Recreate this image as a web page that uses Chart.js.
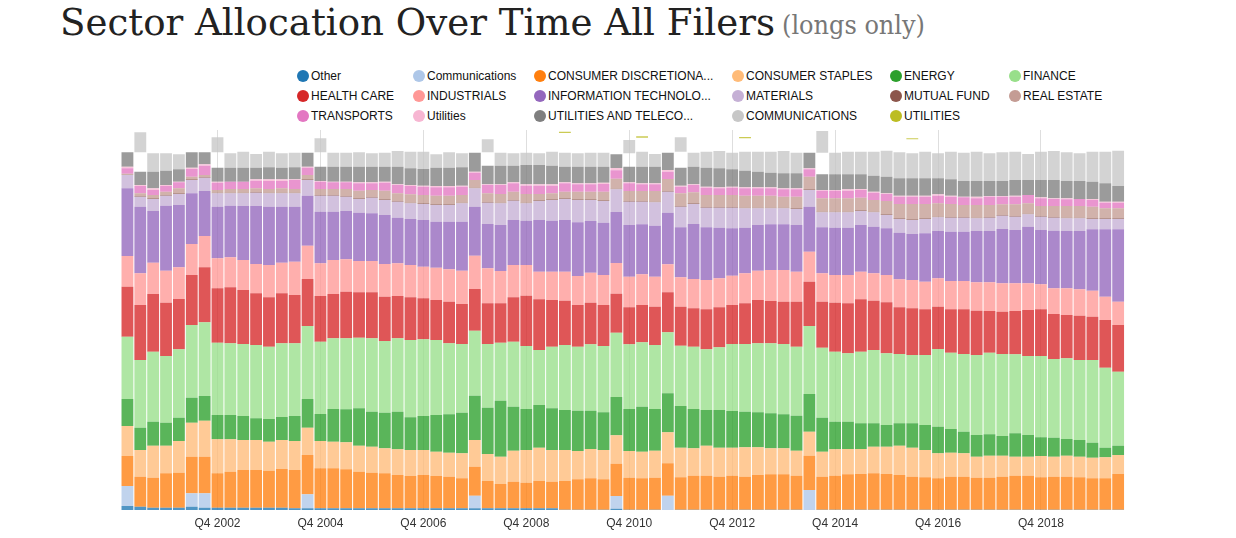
<!DOCTYPE html>
<html>
<head>
<meta charset="utf-8">
<title>Sector Allocation Over Time All Filers</title>
<script src="https://cdn.jsdelivr.net/npm/chart.js@4.4.1/dist/chart.umd.min.js"></script>
<style>
  html, body { margin: 0; padding: 0; background: #fff; }
  body { width: 1236px; height: 538px; position: relative; overflow: hidden; }
  #chart { position: absolute; left: 0; top: 0; }
  .title { position: absolute; white-space: nowrap; line-height: 1; transform-origin: left top;
           font-family: "DejaVu Serif Condensed", "DejaVu Serif", serif; }
  #title-main { left: 60px; top: 3px; font-size: 38px; color: #222; }
  #title-sub { left: 782px; top: 12px; font-size: 26px; color: #777; }
  .leg { position: absolute; height: 14px; font: 12px "Liberation Sans", Arial, sans-serif;
         color: #111; white-space: nowrap; }
  .leg i { position: absolute; left: 0; top: 1px; width: 12px; height: 12px; border-radius: 50%; }
  .leg span { position: absolute; left: 14px; top: 0; line-height: 14px; }
</style>
</head>
<body>
<div id="title-main" class="title">Sector Allocation Over Time All Filers</div>
<div id="title-sub" class="title">(longs only)</div>
<div id="legend"></div>
<canvas id="chart" width="1236" height="538"></canvas>
<script>
const quarters = [
  'Q1 2001','Q2 2001','Q3 2001','Q4 2001','Q1 2002','Q2 2002','Q3 2002','Q4 2002',
  'Q1 2003','Q2 2003','Q3 2003','Q4 2003','Q1 2004','Q2 2004','Q3 2004','Q4 2004',
  'Q1 2005','Q2 2005','Q3 2005','Q4 2005','Q1 2006','Q2 2006','Q3 2006','Q4 2006',
  'Q1 2007','Q2 2007','Q3 2007','Q4 2007','Q1 2008','Q2 2008','Q3 2008','Q4 2008',
  'Q1 2009','Q2 2009','Q3 2009','Q4 2009','Q1 2010','Q2 2010','Q3 2010','Q4 2010',
  'Q1 2011','Q2 2011','Q3 2011','Q4 2011','Q1 2012','Q2 2012','Q3 2012','Q4 2012',
  'Q1 2013','Q2 2013','Q3 2013','Q4 2013','Q1 2014','Q2 2014','Q3 2014','Q4 2014',
  'Q1 2015','Q2 2015','Q3 2015','Q4 2015','Q1 2016','Q2 2016','Q3 2016','Q4 2016',
  'Q1 2017','Q2 2017','Q3 2017','Q4 2017','Q1 2018','Q2 2018','Q3 2018','Q4 2018',
  'Q1 2019','Q2 2019','Q3 2019','Q4 2019','Q1 2020','Q2 2020'
];

// share of long holdings, % (stacked bottom to top)
const other = [1.2,1.0,0.7,0.7,0.7,1.0,0.7,0.7,0.7,0.7, 0.7,0.7,0.7,0.5,0.5,0.5,0.5,0.5,0.5,0.5,
  0.5,0.5,0.5,0.5,0.5,0.5,0.5,0.5,0.5,0.5, 0.5,0.5,0.5,0.5,0.1,0.1,0.1,0.1,0.4,0.1,
  0.1,0.1,0,0.1,0.1,0.1,0.1,0.1,0.1,0.1, 0.1,0.1,0.1,0,0.1,0.1,0.1,0.1,0.1,0.1,
  0.1,0.1,0.1,0.1,0.1,0.1,0.1,0.1,0.1,0.1, 0.1,0.1,0.1,0.1,0.1,0.1,0.1,0.1];
const communications = [6.0,0,0,0,0,4.0,4.3,0,0,0, 0,0,0,0,4.2,0,0,0,0,0,
  0,0,0,0,0,0,0,3.8,0,0, 0,0,0,0,0,0,0,0,3.8,0,
  0,0,4.3,0,0,0,0,0,0,0, 0,0,0,6.0,0,0,0,0,0,0,
  0,0,0,0,0,0,0,0,0,0, 0,0,0,0,0,0,0,0];
const consumerDisc = [9.0,9.0,9.0,10.3,10.5,11.0,11.0,10.3,10.8,11.3, 11.3,11.1,11.6,11.5,11.8,12.0,12.0,11.7,11.0,10.7,
  10.5,10.0,9.7,10.0,9.7,9.5,9.0,8.7,8.2,7.3, 8.0,7.7,8.2,8.0,8.6,9.1,9.4,9.1,9.7,9.6,
  9.4,9.6,9.7,9.7,10.2,10.2,9.9,10.2,9.9,10.4, 10.6,10.6,10.2,10.3,9.9,10.2,10.6,10.7,10.9,10.7,
  10.4,9.9,9.7,9.4,9.9,9.9,9.6,9.6,9.9,10.2, 10.2,9.7,9.9,9.9,9.7,9.4,9.4,10.7];
const consumerStaples = [9.0,8.0,9.6,8.3,9.5,10.2,10.8,10.2,9.7,9.0, 9.0,8.7,8.7,8.7,8.2,8.2,8.0,8.1,7.8,7.8,
  7.5,7.7,7.8,7.5,7.3,7.2,7.5,8.0,8.1,8.2, 9.3,9.8,10.0,9.5,9.3,8.5,8.8,8.8,8.5,8.0,
  8.0,8.1,9.3,8.9,8.2,9.0,8.7,8.4,8.8,8.3, 7.8,7.8,7.5,7.2,7.5,7.9,7.6,7.5,8.0,8.2,
  8.8,8.7,8.2,7.5,7.2,7.0,6.3,6.6,6.3,5.7, 5.7,6.4,6.0,6.3,6.2,6.2,6.3,5.7];
const energy = [8.1,6.7,7.2,6.9,7.0,7.5,7.4,7.3,7.3,7.2, 6.5,6.8,6.9,7.5,8.6,8.1,9.8,9.9,11.2,10.5,
  10.7,11.3,9.8,10.2,11.0,11.5,12.2,13.3,13.9,16.8, 13.2,12.3,12.8,12.5,12.0,12.1,11.5,11.3,11.5,12.6,
  13.5,12.5,11.7,12.5,11.8,10.7,11.3,11.0,10.7,10.5, 10.5,10.2,10.5,11.3,10.2,8.3,8.2,7.7,7.0,6.5,
  6.7,7.3,7.5,8.0,7.1,6.5,6.5,6.4,5.9,7.0, 6.5,5.6,5.7,5.0,5.0,4.5,2.9,2.8];
const finance = [18.7,20.3,21.0,20.0,20.5,21.8,22.1,21.7,21.5,21.6, 22.0,21.7,22.1,21.8,21.9,21.7,21.2,21.3,21.2,22.0,
  21.5,22.0,23.2,23.0,22.5,21.3,20.6,19.5,19.1,17.4, 19.5,18.9,16.5,18.5,19.5,19.2,19.9,19.9,19.3,19.4,
  19.3,19.2,18.3,18.1,18.7,18.2,18.8,20.1,20.3,20.7, 21.0,21.1,20.7,20.4,21.0,21.0,20.5,21.5,22.0,21.5,
  20.8,20.5,21.0,23.3,22.9,23.3,24.0,24.5,24.6,23.7, 23.7,24.4,23.6,24.2,24.0,24.8,24.0,22.2];
const healthCare = [15.0,16.5,17.3,16.0,15.1,15.0,16.5,16.3,16.8,16.2, 15.5,14.8,15.0,14.5,14.1,13.7,13.3,14.0,13.6,13.8,
  13.3,12.7,12.8,12.3,12.0,12.5,12.0,12.5,12.2,11.8, 13.3,15.1,15.2,14.0,13.3,12.5,12.5,12.3,11.7,11.1,
  11.2,11.5,12.0,11.7,11.5,12.0,12.0,11.7,12.2,13.0, 12.7,12.7,13.5,13.3,13.8,14.7,15.0,15.7,14.8,15.3,
  14.0,14.0,13.7,12.7,13.0,13.4,13.3,12.5,12.7,13.0, 13.8,14.0,13.5,13.0,13.3,13.0,14.3,14.0];
const industrials = [9.2,9.5,9.4,9.6,9.5,9.3,9.4,9.0,9.0,9.0, 8.8,9.7,9.2,10.0,10.0,9.8,10.2,9.7,9.4,9.4,
  9.8,9.8,9.7,9.5,9.7,9.7,10.0,10.0,10.5,9.7, 9.7,9.2,8.3,8.5,8.7,8.7,9.0,9.0,9.2,9.2,
  9.2,9.0,8.4,8.8,8.8,8.8,8.7,8.8,9.0,8.8, 9.3,9.5,9.0,9.0,8.5,8.3,8.5,8.3,8.2,8.2,
  8.4,8.5,8.3,8.5,8.5,8.5,8.5,8.6,8.5,8.3, 8.0,7.5,7.7,8.0,7.9,7.8,7.0,7.0];
const infoTech = [20.3,20.0,15.5,19.5,18.7,15.2,13.5,15.5,15.5,16.2, 17.4,17.5,16.8,16.5,15.0,15.5,14.5,14.5,14.5,14.3,
  14.7,13.7,13.8,14.0,13.8,14.3,14.7,14.7,13.3,13.8, 13.5,13.3,15.5,15.3,15.5,16.1,15.5,15.7,15.3,15.5,
  15.0,15.3,15.5,15.0,16.5,15.8,15.2,14.2,13.7,13.7, 13.7,13.7,14.0,13.5,13.8,14.2,14.2,14.0,14.0,14.0,
  14.0,13.8,14.5,14.2,14.8,14.8,15.4,15.4,16.3,16.0, 17.0,16.3,17.3,17.2,17.5,18.4,20.2,21.7];
const materials = [4.0,3.0,3.6,3.0,3.3,4.0,4.0,4.0,3.7,3.8, 4.0,4.0,4.0,4.0,4.7,4.8,4.8,4.3,4.1,4.7,
  4.5,4.8,4.7,4.8,5.0,5.0,5.5,5.5,6.4,6.5, 5.8,5.2,5.7,6.2,6.3,6.7,6.3,6.5,6.8,7.0,
  6.8,7.0,6.3,6.2,6.0,5.9,6.0,6.2,5.8,5.0, 4.8,4.8,4.8,5.0,4.5,4.6,4.6,4.2,4.3,4.0,
  4.1,4.2,4.3,4.1,4.2,4.2,3.8,4.0,4.0,4.0, 3.7,4.0,3.9,3.8,3.8,3.1,3.1,3.1];
const mutualFund = [0.1,0.2,0.2,0.2,0.2,0.2,0.2,0.2,0.2,0.2, 0.2,0.2,0.2,0.2,0.2,0.2,0.2,0.2,0.2,0.2,
  0.2,0.2,0.2,0.2,0.2,0.2,0.2,0.2,0.2,0.2, 0.2,0.2,0.2,0.2,0.2,0.2,0.2,0.2,0.2,0.2,
  0.2,0.2,0.2,0.2,0.2,0.2,0.2,0.2,0.2,0.2, 0.2,0.2,0.2,0.2,0.2,0.2,0.2,0.2,0.2,0.2,
  0.2,0.2,0.2,0.2,0.2,0.2,0.2,0.2,0.2,0.2, 0.2,0.2,0.2,0.2,0.2,0.2,0.2,0.2];
const realEstate = [0.3,0.8,1.0,1.0,1.5,0.8,0.6,0.8,1.1,1.1, 1.1,1.1,1.3,1.1,1.3,1.8,1.8,2.1,2.3,2.1,
  2.6,2.3,2.5,2.5,2.6,2.6,2.3,2.3,2.6,2.6, 2.5,2.6,1.9,1.8,2.0,2.3,2.3,2.6,3.0,3.0,
  3.0,3.2,3.6,3.8,3.3,3.6,3.6,3.6,3.6,3.6, 3.6,3.3,3.5,3.8,4.0,4.0,4.0,3.8,3.5,4.0,
  4.3,4.6,4.3,4.0,3.9,3.6,3.8,3.6,3.2,3.5, 3.1,3.0,3.3,3.5,3.5,3.5,3.0,3.0];
const transports = [1.6,2.2,1.5,1.7,1.8,2.3,2.8,2.2,2.2,2.2, 2.3,2.4,2.2,2.7,2.2,2.2,2.0,2.0,2.2,2.0,
  2.4,2.5,2.5,2.5,2.5,2.5,2.5,2.2,2.5,2.7, 2.5,2.5,2.5,2.3,2.5,2.2,2.2,2.3,2.5,2.3,
  2.0,2.0,2.2,2.0,2.2,2.2,2.0,2.2,2.2,2.2, 2.2,2.2,2.2,2.2,2.3,2.3,2.3,2.3,2.2,2.1,
  2.2,2.2,2.2,2.3,2.2,2.3,2.0,2.5,2.3,2.3, 2.5,2.3,2.1,2.0,2.1,2.0,1.7,1.7];
const utilitiesLower = [0.5,0.3,0.5,0.3,0.2,0.4,0.4,0.3,0,0, 0.4,0.5,0.5,0.2,0.3,0.2,0.2,0.2,0.3,0.3,
  0.3,0.2,0.3,0.3,0.4,0.4,0.3,0.3,0.2,0.2, 0.3,0.4,0.4,0.4,0.3,0.3,0.3,0.4,0.7,0.3,
  0.3,0.3,0.5,0.3,0.2,0.3,0.3,0.3,0.3,0.3, 0.3,0.3,0.3,0.3,0.2,0.2,0.4,0.3,0.3,0.2,
  0.3,0.3,0.3,0.4,0.3,0.2,0.5,0.2,0.2,0.3, 0,0.3,0.2,0.3,0,0.3,0.3,0.3];
const utilitiesTelecom = [4.3,4.0,5.0,4.3,3.7,4.6,3.6,4.2,4.2,4.2, 3.5,3.6,3.5,3.6,4.2,4.3,4.5,4.5,4.7,4.7,
  4.5,5.3,5.0,5.0,5.5,5.5,5.5,5.7,5.6,5.6, 5.0,5.8,5.8,5.6,4.7,5.0,5.0,4.8,4.1,4.7,
  5.0,5.0,5.2,5.4,5.3,5.7,5.7,5.2,5.0,4.7, 4.4,4.5,4.5,4.7,4.7,4.7,4.5,4.4,4.8,5.0,
  5.2,5.2,5.2,4.8,4.9,4.7,4.7,4.5,4.5,4.7, 4.5,5.2,5.5,5.2,5.4,5.2,5.5,4.7];
// empty space left inside a few stacks
const gapBelowComm = [0,5.8,0,0,0,0,0,4.6,0,0, 0,0,0,0,0,4.3,0,0,0,0,
  0,0,0,0,0,0,0,0,4.0,0, 0,0,0,0,0,0,0,0,0,4.0,
  0,0,0,4.8,0,0,0,0,0,0, 0,0,0,0,6.5,0,0,0,0,0,
  0,0,0,0,0,0,0,0,0,0, 0,0,0,0,0,0,0,0];
const communicationsUpper = [0,6.0,5.5,5.2,4.5,0,0,4.5,4.3,4.8, 4.1,4.7,4.3,4.4,0,4.2,4.2,4.2,4.3,4.0,
  4.2,4.7,5.0,5.2,4.0,4.6,4.2,0,3.9,3.9, 3.7,3.7,3.5,4.2,4.2,4.0,4.2,4.2,0,4.0,
  4.5,3.8,0,4.3,4.2,4.8,5.2,5.0,5.7,6.0, 6.3,6.7,6.2,0,6.5,6.5,6.8,6.8,7.2,7.8,
  7.8,7.5,8.0,7.5,8.3,8.5,8.8,8.3,8.6,8.5, 7.8,8.5,8.7,8.6,8.3,9.0,9.5,10.6];
const gapBelowUtil = [0,0,0,0,0,0,0,0,0,0, 0,0,0,0,0,0,0,0,0,0,
  0,0,0,0,0,0,0,0,0,0, 0,0,0,0,5.9,0,0,0,0,0,
  4.2,0,0,0,0,0,0,0,4.0,0, 0,0,0,0,0,0,0,0,0,0,
  0,4.2,0,0,0,0,0,0,0,0, 0,0,0,0,0,0,0,0];
const utilitiesUpper = [0,0,0,0,0,0,0,0,0,0, 0,0,0,0,0,0,0,0,0,0,
  0,0,0,0,0,0,0,0,0,0, 0,0,0,0,0.4,0,0,0,0,0,
  0.4,0,0,0,0,0,0,0,0.4,0, 0,0,0,0,0,0,0,0,0,0,
  0,0.3,0,0,0,0,0,0,0,0, 0,0,0,0,0,0,0,0];

const series = [
  { label: 'Other', data: other, color: '#1f77b4' },
  { label: 'Communications', data: communications, color: '#aec7e8' },
  { label: 'CONSUMER DISCRETIONARY', data: consumerDisc, color: '#ff7f0e' },
  { label: 'CONSUMER STAPLES', data: consumerStaples, color: '#ffbb78' },
  { label: 'ENERGY', data: energy, color: '#2ca02c' },
  { label: 'FINANCE', data: finance, color: '#98df8a' },
  { label: 'HEALTH CARE', data: healthCare, color: '#d62728' },
  { label: 'INDUSTRIALS', data: industrials, color: '#ff9896' },
  { label: 'INFORMATION TECHNOLOGY', data: infoTech, color: '#9467bd' },
  { label: 'MATERIALS', data: materials, color: '#c5b0d5' },
  { label: 'MUTUAL FUND', data: mutualFund, color: '#8c564b' },
  { label: 'REAL ESTATE', data: realEstate, color: '#c49c94' },
  { label: 'TRANSPORTS', data: transports, color: '#e377c2' },
  { label: 'Utilities', data: utilitiesLower, color: '#f7b6d2' },
  { label: 'UTILITIES AND TELECOM', data: utilitiesTelecom, color: '#7f7f7f' },
  { label: '', data: gapBelowComm, color: null },
  { label: 'COMMUNICATIONS', data: communicationsUpper, color: '#c7c7c7' },
  { label: '', data: gapBelowUtil, color: null },
  { label: 'UTILITIES', data: utilitiesUpper, color: '#bcbd22' }
];

const fade = (hex, a) => {
  const n = parseInt(hex.slice(1), 16);
  return `rgba(${n >> 16}, ${(n >> 8) & 255}, ${n & 255}, ${a})`;
};

// legend laid out in fixed columns like the original
const legendCols = [297, 413, 534, 732, 890, 1009];
const legendRows = [69, 89, 109];
const legendBox = document.getElementById('legend');
series.filter((s) => s.color).forEach((s, i) => {
  const item = document.createElement('div');
  item.className = 'leg';
  item.style.left = legendCols[i % 6] + 'px';
  item.style.top = legendRows[Math.floor(i / 6)] + 'px';
  const text = s.label.length > 20 ? s.label.slice(0, 20) + '...' : s.label;
  item.innerHTML = `<i style="background:${s.color}"></i><span>${text}</span>`;
  legendBox.appendChild(item);
});

// squeeze title pieces to the widths used in the picture
const fitWidth = (id, target) => {
  const el = document.getElementById(id);
  const w = el.getBoundingClientRect().width;
  el.style.transform = `scaleX(${target / w})`;
};
fitWidth('title-main', 715);
fitWidth('title-sub', 143);

const ctx = document.getElementById('chart').getContext('2d');
new Chart(ctx, {
  type: 'bar',
  data: {
    labels: quarters,
    datasets: series.map((s) => ({
      label: s.label,
      data: s.data,
      backgroundColor: s.color ? fade(s.color, 0.78) : 'rgba(0,0,0,0)',
      hoverBackgroundColor: s.color ? s.color : 'rgba(0,0,0,0)',
      borderWidth: 0,
      barPercentage: 0.92,
      categoryPercentage: 1.0
    }))
  },
  options: {
    responsive: false,
    animation: false,
    layout: { padding: { left: 121, right: 111.4, top: 130, bottom: 1.6 } },
    plugins: {
      legend: { display: false },
      tooltip: { filter: (item) => item.dataset.label !== '' && item.raw > 0 }
    },
    scales: {
      x: {
        stacked: true,
        offset: true,
        border: { display: false },
        grid: {
          offset: false,
          drawTicks: false,
          color: (c) => (c.index % 8 === 7 ? 'rgba(0,0,0,0.13)' : 'rgba(0,0,0,0)')
        },
        ticks: {
          autoSkip: false,
          maxRotation: 0,
          padding: 6,
          color: '#333',
          font: { family: '"Liberation Sans", Arial, sans-serif', size: 12 },
          callback: function (value, index) {
            return index % 8 === 7 ? this.getLabelForValue(value) : '';
          }
        }
      },
      y: {
        stacked: true,
        display: false,
        min: 0,
        max: 114
      }
    }
  }
});
</script>
</body>
</html>
